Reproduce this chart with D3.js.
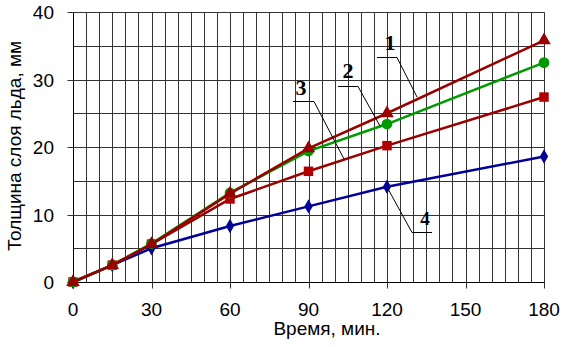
<!DOCTYPE html>
<html><head><meta charset="utf-8">
<script src="https://cdn.jsdelivr.net/npm/d3@7"></script>
<style>html,body{margin:0;padding:0;background:#fff;}svg{display:block;}</style>
</head><body>
<svg id="c" width="567" height="347"></svg>
<script>
const times = [0, 15, 30, 60, 90, 120, 180];
const series1 = [0, 2.5, 5.6, 13.1, 19.8, 25.0, 35.8];
const series2 = [0, 2.5, 5.7, 13.2, 19.4, 23.4, 32.5];
const series3 = [0, 2.5, 5.6, 12.3, 16.4, 20.2, 27.4];
const series4 = [0, 2.5, 5.0, 8.3, 11.2, 14.1, 18.6];
const xTicks = [0, 30, 60, 90, 120, 150, 180];
const yTicks = [0, 10, 20, 30, 40];
const labels = ["1", "2", "3", "4"];

const svg = d3.select("#c");
const x = d3.scaleLinear().domain([0, 180]).range([73, 544]);
const y = d3.scaleLinear().domain([0, 40]).range([282, 12]);
const px = v => Math.round(x(v)) + 0.5;
const py = v => Math.round(y(v)) + 0.5;
const FONT = "Liberation Sans, Arial, sans-serif";

const g = svg.append("g");
// grid
g.selectAll("line.vg").data(d3.range(0, 181, 5)).join("line")
  .attr("x1", d => px(d)).attr("x2", d => px(d))
  .attr("y1", py(40)).attr("y2", d => xTicks.includes(d) ? py(0) + 6 : py(0))
  .attr("stroke", d => (d === 0) ? "#000" : "#333").attr("stroke-width", 1);
g.selectAll("line.hg").data(d3.range(0, 41, 5)).join("line")
  .attr("y1", d => py(d)).attr("y2", d => py(d))
  .attr("x1", d => yTicks.includes(d) ? px(0) - 6 : px(0)).attr("x2", px(180))
  .attr("stroke", d => (d === 0) ? "#000" : "#333").attr("stroke-width", 1);

// tick labels
g.selectAll("text.xt").data(xTicks).join("text")
  .attr("x", d => x(d)).attr("y", 316).attr("text-anchor", "middle")
  .attr("font-family", FONT).attr("font-size", 19)
  .text(d => d);
g.selectAll("text.yt").data(yTicks).join("text")
  .attr("x", 54).attr("y", d => y(d) + 7).attr("text-anchor", "end")
  .attr("font-family", FONT).attr("font-size", 19)
  .text(d => d);

svg.append("text").attr("x", 327).attr("y", 335).attr("text-anchor", "middle")
  .attr("font-family", FONT).attr("font-size", 19)
  .text("Время, мин.");
svg.append("text").attr("transform", "translate(21,146) rotate(-90)").attr("text-anchor", "middle")
  .attr("font-family", FONT).attr("font-size", 19)
  .text("Толщина слоя льда, мм");

const line = d3.line().x(d => x(d[0])).y(d => y(d[1]));
const defs = [
  {vals: series3, color: "#990000", fill: "#b00000", sym: d3.symbolSquare, size: 90},
  {vals: series4, color: "#000099", fill: "#000099", sym: d3.symbolDiamond, size: 60},
  {vals: series2, color: "#009900", fill: "#009900", sym: d3.symbolCircle, size: 90},
  {vals: series1, color: "#990000", fill: "#990000", sym: d3.symbolTriangle, size: 80},
];
defs.forEach(s => {
  const pts = times.map((t, i) => [t, s.vals[i]]);
  svg.append("path").attr("d", line(pts)).attr("fill", "none")
    .attr("stroke", s.color).attr("stroke-width", 2.5);
  svg.selectAll(null).data(pts).join("path")
    .attr("d", d3.symbol().type(s.sym).size(s.size))
    .attr("transform", d => `translate(${x(d[0])},${y(d[1])})`)
    .attr("fill", s.fill);
});

// annotations
const ann = [
  {label: labels[0], tx: 390, ty: 50, fs: 22, path: [[377, 57.5], [397, 57.5], [417, 97]]},
  {label: labels[1], tx: 348, ty: 78, fs: 22, path: [[338, 86.5], [358, 86.5], [380, 126]]},
  {label: labels[2], tx: 301, ty: 95, fs: 22, path: [[293, 101.5], [314, 101.5], [344, 159]]},
  {label: labels[3], tx: 425, ty: 225, fs: 19, path: [[387, 187], [412, 232.5], [432, 232.5]]},
];
ann.forEach(a => {
  svg.append("path").attr("d", d3.line()(a.path)).attr("fill", "none")
    .attr("stroke", "#000").attr("stroke-width", 1);
  svg.append("text").attr("x", a.tx).attr("y", a.ty).attr("text-anchor", "middle")
    .attr("font-family", "Liberation Serif, Times New Roman, serif").attr("font-weight", "bold")
    .attr("font-size", a.fs).text(a.label);
});
</script>
</body></html>
